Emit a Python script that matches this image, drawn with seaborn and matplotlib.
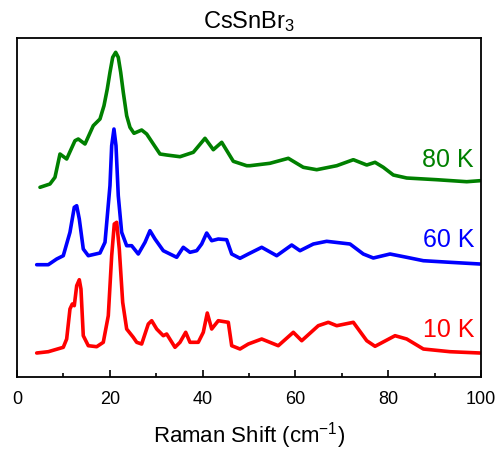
import matplotlib
matplotlib.use("Agg")
import matplotlib.pyplot as plt
import seaborn as sns
import pandas as pd
from matplotlib.ticker import MultipleLocator

# Raman shift (cm^-1) and offset intensities (arb. units)
x_80K = [4.96, 7.11, 8.19, 9.27, 10.71, 12.5, 13.21, 14.66, 16.44, 17.52, 17.89, 18.75, 19.46, 20.04,
         20.63, 21.27, 21.83, 22.35, 22.91, 23.64, 24.35, 25.22, 26.87, 27.95, 29.38, 30.82, 32.26,
         35.13, 38.0, 40.52, 42.31, 44.12, 46.62, 49.5, 50.2, 54.5, 58.47, 61.7, 64.59, 68.9, 72.48,
         75.37, 77.16, 78.94, 81.1, 83.99, 90.45, 96.92, 99.78]
y_80K = [189.7, 193, 199.7, 223, 218, 236.3, 238, 233, 251.3, 256.3, 258, 271.3, 288, 304.7,
         319.7, 324.7, 319.7, 304.7, 284.7, 261.3, 249.7, 243.7, 247, 243, 233, 223, 222,
         220.3, 224.7, 238.7, 227.3, 234.7, 215.7, 211.3, 211.3, 213.7, 218.7, 209.7, 207.3, 211.3, 217.3,
         212, 214.7, 209.7, 202, 199, 197.3, 195.3, 196.3]

x_60K = [4.25, 6.75, 8.56, 9.98, 11.42, 12.35, 12.87, 13.43, 14.29, 15.37, 17.89, 18.97, 20.04, 20.41,
         20.9, 21.34, 21.83, 22.56, 23.64, 24.72, 26.14, 27.59, 28.66, 29.74, 31.53, 34.42, 35.84,
         37.28, 38.73, 39.8, 40.88, 41.96, 43.38, 45.19, 46.27, 48.06, 49.85, 52.74, 55.97, 59.2,
         60.99, 63.86, 66.74, 71.77, 74.63, 76.79, 80.39, 83.99, 87.57, 93.32, 99.78]
y_60K = [112.3, 112.3, 118, 121.3, 144.7, 169.7, 171.3, 158, 128, 121.3, 124, 134.7, 191.3, 231.3,
         248, 231.3, 181.3, 144.7, 131.3, 131.3, 123, 134.7, 146.3, 138, 126.3, 119.7, 129.7,
         124.7, 126.3, 133, 144, 136.3, 138, 137.3, 123, 118.7, 123, 129.7, 121.3, 132,
         126.3, 133, 135.7, 133, 123, 119, 123, 119.7, 116.3, 114.7, 113]

x_10K = [4.25, 6.75, 9.98, 10.71, 11.42, 11.92, 12.35, 12.87, 13.43, 13.79, 14.29, 15.37, 17.18, 18.6,
         19.68, 20.41, 20.97, 21.49, 22.05, 22.78, 23.64, 25.06, 25.8, 26.87, 28.3, 29.03, 30.11,
         31.53, 32.26, 34.05, 35.13, 36.36, 37.28, 39.07, 40.15, 41.01, 41.96, 43.38, 45.54, 46.27,
         48.06, 49.85, 52.74, 56.31, 59.55, 61.36, 64.93, 67.09, 68.9, 72.48, 75.37, 77.16, 81.47,
         83.99, 87.57, 93.32, 99.78]
y_10K = [24, 25.3, 29.7, 38, 68, 73, 71.3, 91.3, 97.3, 88, 41.3, 31.3, 30.3, 34.7,
         61.3, 121.3, 153, 154.7, 128, 74.7, 48, 39.7, 34.7, 33, 53, 56.3, 48,
         41.3, 43, 29.7, 34.7, 44.7, 34.7, 34.7, 44.7, 64, 48, 56.3, 54.7, 31.3,
         28, 33, 38, 31.3, 44.7, 36.3, 51.3, 54.7, 51.3, 54.7, 36.3, 30.7, 41.3,
         38, 28, 25.3, 24]

labels = ["10 K", "60 K", "80 K"]
colors = ["#ff0000", "#0000ff", "#008000"]
label_y = [48, 138, 218]

sns.set_theme(style="white")
plt.rcParams['font.family'] = ['Liberation Sans', 'DejaVu Sans']
plt.rcParams['mathtext.fontset'] = 'custom'
plt.rcParams['mathtext.rm'] = 'Liberation Sans'
plt.rcParams['mathtext.it'] = 'Liberation Sans'
plt.rcParams['mathtext.default'] = 'regular'
plt.rcParams['text.color'] = 'black'
plt.rcParams['axes.labelcolor'] = 'black'
plt.rcParams['xtick.color'] = 'black'

fig = plt.figure(figsize=(4.99, 4.52), dpi=100)
ax = fig.add_axes([0.034, 0.1637, 0.930, 0.750])

for xs, ys, c in [(x_10K, y_10K, colors[0]), (x_60K, y_60K, colors[1]), (x_80K, y_80K, colors[2])]:
    df = pd.DataFrame({"x": xs, "y": ys})
    sns.lineplot(data=df, x="x", y="y", color=c, linewidth=2.6, ax=ax, estimator=None,
                 solid_joinstyle="round", solid_capstyle="round")

for lab, c, ly in zip(labels, colors, label_y):
    ax.text(98.5, ly, lab, color=c, fontsize=18, ha="right", va="center")

ax.set_xlim(0, 100)
ax.set_ylim(0, 339)
ax.set_yticks([])
ax.xaxis.set_major_locator(MultipleLocator(20))
ax.xaxis.set_minor_locator(MultipleLocator(10))
ax.tick_params(axis="x", which="major", direction="in", length=5, width=1.2, labelsize=13, pad=9, bottom=True)
ax.tick_params(axis="x", which="minor", direction="in", length=3, width=1.2, bottom=True)
for s in ax.spines.values():
    s.set_color("black")
    s.set_linewidth(1.3)
ax.set_xlabel("Raman Shift (cm$^{-1}$)", fontsize=16, labelpad=9)
ax.set_ylabel("")
ax.set_title("CsSnBr$_3$", fontsize=17, pad=8)

fig.savefig("out.png", dpi=100)
